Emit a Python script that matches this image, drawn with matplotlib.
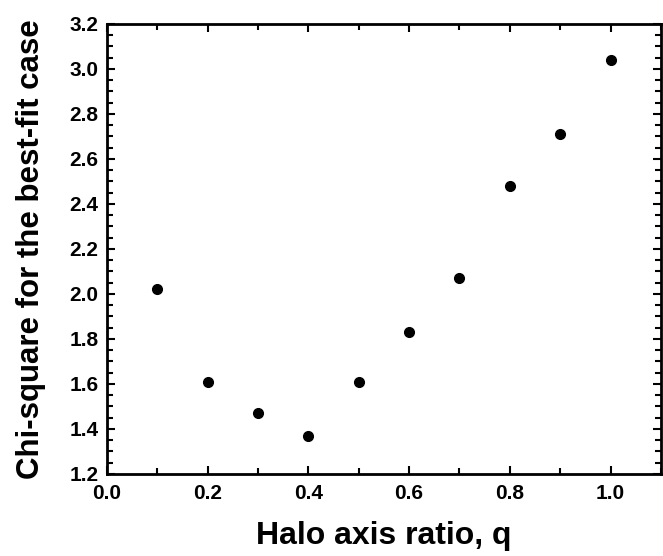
import matplotlib
matplotlib.use("Agg")
import matplotlib.pyplot as plt
from matplotlib.ticker import MultipleLocator

# axis ratio vs chi-square of the best fit
q = [0.1, 0.2, 0.3, 0.4, 0.5, 0.6, 0.7, 0.8, 0.9, 1.0]
chi2 = [2.02, 1.61, 1.47, 1.37, 1.61, 1.83, 2.07, 2.48, 2.71, 3.04]

plt.rcParams["font.family"] = ["Liberation Sans", "DejaVu Sans"]
plt.rcParams["font.weight"] = "bold"

fig = plt.figure(figsize=(6.63, 5.56), dpi=100)
ax = fig.add_axes([0.161, 0.1475, 0.836, 0.8095])

ax.plot(q, chi2, "o", color="black", markersize=7)

ax.set_xlim(0.0, 1.1)
ax.set_ylim(1.2, 3.2)
ax.xaxis.set_major_locator(MultipleLocator(0.2))
ax.xaxis.set_minor_locator(MultipleLocator(0.1))
ax.yaxis.set_major_locator(MultipleLocator(0.2))
ax.yaxis.set_minor_locator(MultipleLocator(0.05))
ax.xaxis.set_major_formatter(plt.FormatStrFormatter("%.1f"))
ax.yaxis.set_major_formatter(plt.FormatStrFormatter("%.1f"))

ax.tick_params(which="both", direction="in", top=True, right=True, width=1.5)
ax.tick_params(which="major", length=6, labelsize=15)
ax.tick_params(which="minor", length=4)
ax.tick_params(axis="x", which="major", pad=7)
ax.tick_params(axis="y", which="major", pad=6)
for sp in ax.spines.values():
    sp.set_linewidth(2)

ax.set_xlabel("Halo axis ratio, q", fontsize=23, fontweight="bold", labelpad=13)
ax.set_ylabel("Chi-square for the best-fit case", fontsize=22.5, fontweight="bold", labelpad=17)

fig.savefig("out.png", dpi=100)
